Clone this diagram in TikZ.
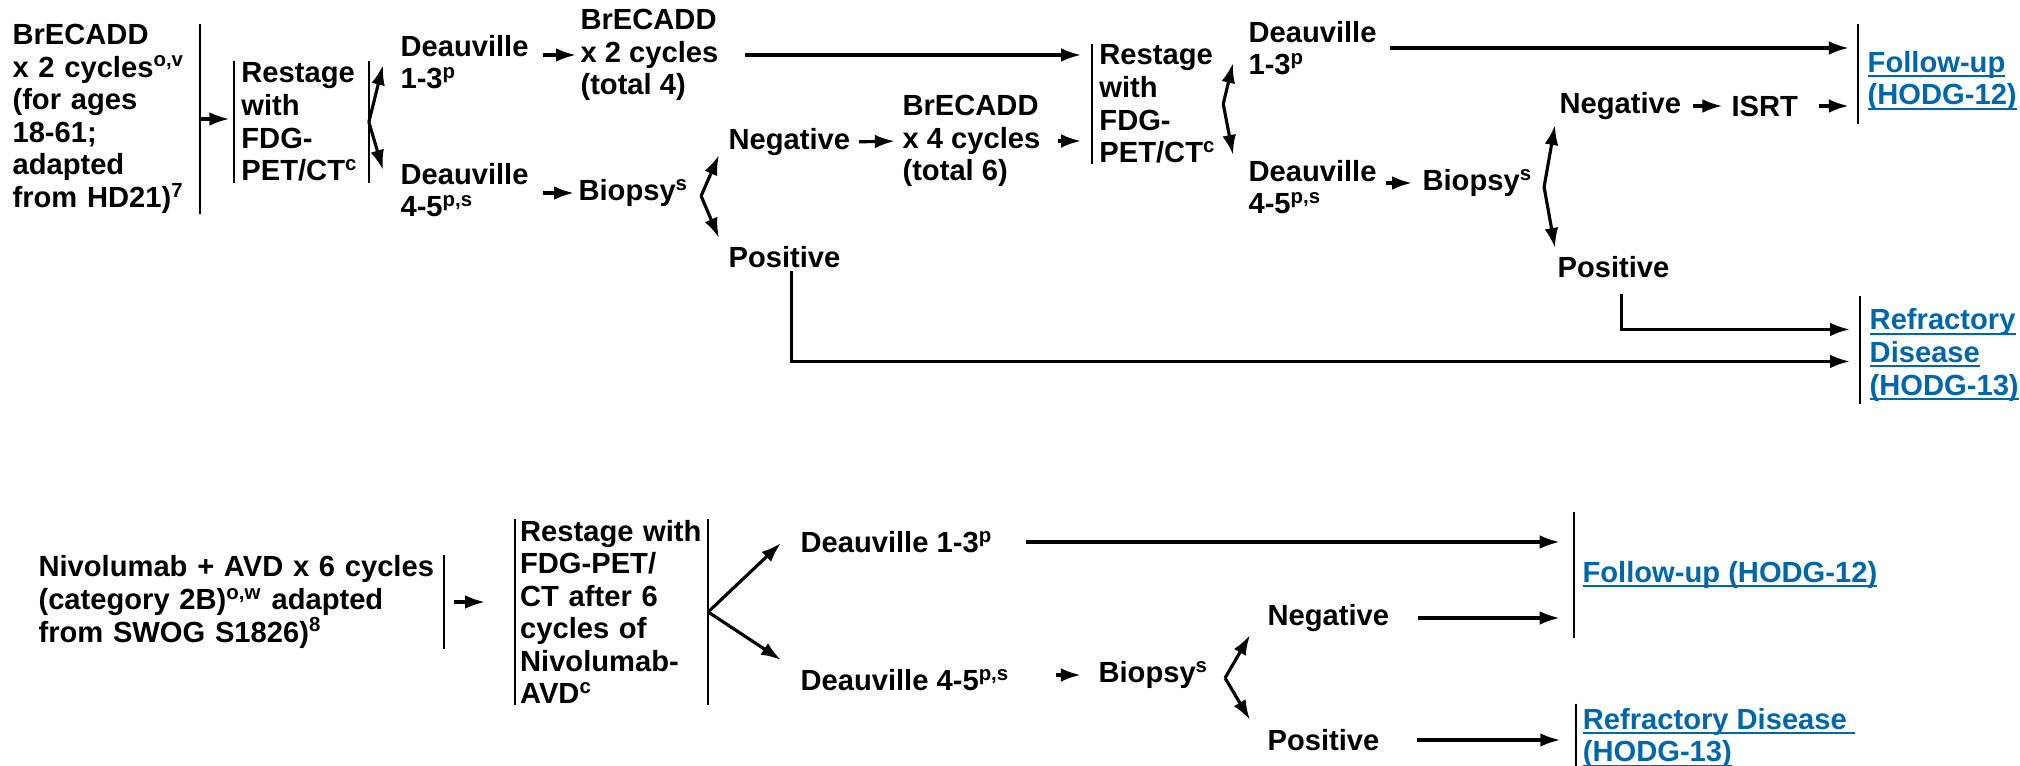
\documentclass[tikz,border=0pt]{standalone}
\usepackage{fontspec}
\setmainfont{Liberation Sans}
\usetikzlibrary{calc,arrows.meta}
\definecolor{linkblue}{RGB}{0,102,170}
\newsavebox\lnkbox
\newcommand{\ulink}[1]{\sbox\lnkbox{#1}\rlap{\rule[-1.7pt]{\wd\lnkbox}{0.7pt}}\usebox\lnkbox}

\begin{document}
\begin{tikzpicture}[x=0.35pt,y=-0.35pt,>={Latex[length=7pt,width=4.8pt]},
	txt/.style={anchor=west,align=left,inner sep=0pt,font={\fontsize{10.2}{11.4}\selectfont\bfseries}},
	lnk/.style={txt,text=linkblue},
	arr/.style={->,line width=1.1pt},
	bar/.style={line width=0.8pt}]
	\useasboundingbox (0,0) rectangle (2020,766);
	%% upper pathway
	\node[txt,text width=65.4pt,minimum height=65pt] (brecA) at (12,119) {BrECADD\\x 2 cycles\textsuperscript{o,v}\\(for ages\\18-61;\\adapted\\from HD21)\textsuperscript{7}};
	\node[txt,inner xsep=2.4pt,text width=42pt,minimum height=42.4pt] (rstA) at (234,122) {Restage\\with\\FDG-\\PET/CT\textsuperscript{c}};
	\node[txt] (dvlA) at (400,62) {Deauville\\1-3\textsuperscript{p}};
	\node[txt] (dvhA) at (400,190) {Deauville\\4-5\textsuperscript{p,s}};
	\node[txt] (brecB) at (580,55) {BrECADD\\x 2 cycles\\(total 4)};
	\node[txt] (bioA) at (578,193) {Biopsy\textsuperscript{s}};
	\node[txt] (negA) at (728,142) {Negative};
	\node[txt] (posA) at (728,257) {Positive};
	\node[txt] (brecC) at (902,141) {BrECADD\\x 4 cycles\\(total 6)};
	\node[txt,inner xsep=2.4pt,minimum height=40.3pt] (rstB) at (1092,104) {Restage\\with\\FDG-\\PET/CT\textsuperscript{c}};
	\node[txt] (dvlB) at (1248,48) {Deauville\\1-3\textsuperscript{p}};
	\node[txt] (dvhB) at (1248,187) {Deauville\\4-5\textsuperscript{p,s}};
	\node[txt] (bioB) at (1422,183) {Biopsy\textsuperscript{s}};
	\node[txt] (negB) at (1559,106) {Negative};
	\node[txt] (isrt) at (1731,106) {ISRT};
	\node[txt] (posB) at (1557,267) {Positive};
	\node[lnk,inner xsep=3.2pt,minimum height=34.3pt] (fupA) at (1858,81) {\ulink{Follow-up}\\\ulink{(HODG-12)}};
	\node[lnk,inner xsep=3.2pt,minimum height=37.1pt] (rfrA) at (1860,355) {\ulink{Refractory}\\\ulink{Disease}\\\ulink{(HODG-13)}};
	%% lower pathway
	\node[txt,text width=141.7pt,minimum height=31.5pt] (nivo) at (38,602) {Nivolumab + AVD x 6 cycles\\(category 2B)\textsuperscript{o,w} adapted\\from SWOG S1826)\textsuperscript{8}};
	\node[txt,inner xsep=1.6pt,text width=64pt,minimum height=64.7pt] (rstC) at (515,612) {Restage with\\FDG-PET/\\CT after 6\\cycles of\\Nivolumab-\\AVD\textsuperscript{c}};
	\node[txt] (dvlC) at (800,542) {Deauville 1-3\textsuperscript{p}};
	\node[txt] (dvhC) at (800,680) {Deauville 4-5\textsuperscript{p,s}};
	\node[txt] (bioC) at (1098,675) {Biopsy\textsuperscript{s}};
	\node[txt] (negC) at (1267,618) {Negative};
	\node[txt] (posC) at (1267,740) {Positive};
	\node[lnk,inner xsep=2.8pt,minimum height=43.7pt] (fupB) at (1574,575) {\ulink{Follow-up (HODG-12)}};
	\node[lnk,inner xsep=2.2pt,minimum height=20.3pt] (rfrB) at (1576,738) {\ulink{Refractory Disease\ }\\\ulink{(HODG-13)}};
	%% bars
	\draw[bar] (brecA.north east) -- (brecA.south east);
	\draw[bar] (rstA.north west) -- (rstA.south west);
	\draw[bar] (rstA.north east) -- (rstA.south east);
	\draw[bar] (rstB.north west) -- (rstB.south west);
	\draw[bar] ($(fupA.north west)+(0,-7)$) -- ($(fupA.south west)+(0,-7)$);
	\draw[bar] ($(rfrA.north west)+(0,-5)$) -- ($(rfrA.south west)+(0,-5)$);
	\draw[bar] (nivo.north east) -- (nivo.south east);
	\draw[bar] (rstC.north west) -- (rstC.south west);
	\draw[bar] (rstC.north east) -- (rstC.south east);
	\draw[bar] (fupB.north west) -- (fupB.south west);
	\draw[bar] ($(rfrB.north west)+(0,-4)$) -- ($(rfrB.south west)+(0,6)$);
	%% arrows, upper
	\draw[arr,shorten >=1.6pt] (brecA.east) -- (brecA.east -| rstA.west);
	\draw[arr] (rstA.east) -- ($(dvlA.west)+(-17,3)$);
	\draw[arr] (rstA.east) -- ($(dvhA.west)+(-17,-20)$);
	\draw[arr,shorten <=5pt,shorten >=1.4pt] (dvlA.east |- brecB.west) -- (brecB.west);
	\draw[arr,shorten <=5pt,shorten >=1.4pt] (dvhA.east |- bioA.west) -- (bioA.west);
	\draw[arr,shorten <=9pt,shorten >=3.8pt] (brecB.east) -- (brecB.east -| rstB.west);
	\draw[arr] ($(bioA.east)+(12,3)$) -- ($(negA.west)+(-9,13)$);
	\draw[arr] ($(bioA.east)+(12,3)$) -- ($(posA.west)+(-9,-19)$);
	\draw[arr,shorten <=3pt,shorten >=2.5pt] (negA.east) -- (brecC.west);
	\draw[arr,shorten <=6pt,shorten >=3.8pt] (brecC.east) -- (brecC.east -| rstB.west);
	\draw[arr] (rstB.east) -- ($(dvlB.west)+(-15,15)$);
	\draw[arr] (rstB.east) -- ($(dvhB.west)+(-15,-32)$);
	\draw[arr,shorten <=4.5pt,shorten >=3.2pt] (dvlB.east) -- (dvlB.east -| fupA.west);
	\draw[arr,shorten <=3pt,shorten >=3.5pt] (dvhB.east |- bioB.west) -- (bioB.west);
	\draw[arr] ($(bioB.east)+(11,4)$) -- ($(negB.west)+(-4,19)$);
	\draw[arr] ($(bioB.east)+(11,4)$) -- ($(posB.west)+(-2,-19)$);
	\draw[arr,shorten <=4pt,shorten >=3pt] (negB.east) -- (isrt.west);
	\draw[arr,shorten <=7pt,shorten >=3.2pt] (isrt.east) -- (isrt.east -| fupA.west);
	\draw[arr,shorten >=3.5pt] ($(posB.south)+(8,16)$) |- ($(rfrA.north west)+(0,28)$);
	\draw[arr,shorten >=3.5pt] ($(posA.south)+(7,3)$) |- ($(rfrA.north west)+(0,60)$);
	%% arrows, lower
	\draw[arr,shorten <=3.5pt,shorten >=10.5pt] (nivo.east) -- (nivo.east -| rstC.west);
	\draw[arr] (rstC.east) -- ($(dvlC.west)+(-19,1)$);
	\draw[arr] (rstC.east) -- ($(dvhC.west)+(-19,-20)$);
	\draw[arr,shorten <=11.5pt,shorten >=5pt] (dvlC.east) -- (dvlC.east -| fupB.west);
	\draw[arr,shorten <=16pt,shorten >=6pt] (dvhC.east |- bioC.west) -- (bioC.west);
	\draw[arr] ($(bioC.east)+(16,3)$) -- ($(negC.west)+(-17,17)$);
	\draw[arr] ($(bioC.east)+(16,3)$) -- ($(posC.west)+(-17,-20)$);
	\draw[arr,shorten <=10pt,shorten >=5pt] (negC.east) -- (negC.east -| fupB.west);
	\draw[arr,shorten <=13pt,shorten >=5.5pt] (posC.east) -- (posC.east -| rfrB.west);
\end{tikzpicture}
\end{document}
